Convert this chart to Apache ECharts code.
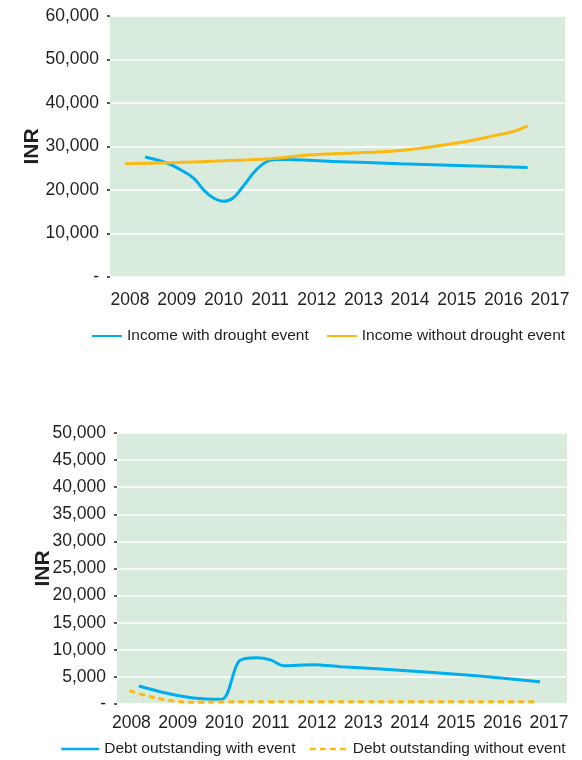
<!DOCTYPE html>
<html>
<head>
<meta charset="utf-8">
<script src="https://cdn.jsdelivr.net/npm/echarts@6/dist/echarts.min.js"></script>
<style>
  html, body { margin: 0; padding: 0; background: #fff; }
  #chart { width: 582px; height: 760px; }
</style>
</head>
<body>
<div id="chart"></div>
<script>
// year labels shown under both plots
var yearLabels = [2008, 2009, 2010, 2011, 2012, 2013, 2014, 2015, 2016, 2017];

// top chart: income (INR)
var incomeWithX = [2008.32, 2008.79, 2009.07, 2009.36, 2009.57, 2009.78, 2010.0, 2010.2, 2010.42, 2010.71, 2011.0, 2011.2, 2012.35, 2013.78, 2015.2, 2016.52];
var incomeWithY = [27600, 26200, 24700, 22750, 20100, 18200, 17400, 18100, 20800, 24700, 26800, 27000, 26560, 26050, 25600, 25200];
var incomeWithoutX = [2007.89, 2009.0, 2010.0, 2011.0, 2011.92, 2013.0, 2013.78, 2014.49, 2015.21, 2015.78, 2016.21, 2016.52];
var incomeWithoutY = [26030, 26300, 26700, 27200, 28100, 28600, 29080, 30000, 31150, 32450, 33440, 34750];

// bottom chart: debt outstanding (INR)
var debtWithX = [2008.16, 2008.77, 2009.34, 2009.95, 2010.33, 2010.71, 2011.0, 2011.28, 2011.93, 2012.5, 2013.37, 2014.5, 2015.5, 2016.81];
var debtWithY = [3320, 1970, 1100, 870, 8000, 8550, 8130, 7080, 7260, 6890, 6460, 5800, 5150, 4120];
var debtWithoutX = [2007.96, 2008.41, 2008.91, 2009.49, 2010.0, 2011.0, 2012.0, 2013.0, 2014.0, 2015.0, 2016.0, 2016.74];
var debtWithoutY = [2460, 1350, 550, 300, 400, 400, 400, 400, 400, 400, 400, 400];

var blue = '#00aeef';
var gold = '#fdb913';
var ink = '#231f20';
var plotBg = '#d9ebdc';

function pairs(xs, ys) {
  return xs.map(function (x, i) { return [x, ys[i]]; });
}

function yLabel(v) {
  return v === 0 ? '-' : v.toLocaleString('en-US');
}

var axisFont = { fontFamily: 'Liberation Sans', fontSize: 17.5, color: ink };

function xAxisFor(idx, min, max, margin) {
  return {
    type: 'value', gridIndex: idx, min: min, max: max,
    axisLine: { show: false },
    axisTick: { show: false },
    splitLine: { show: false },
    axisLabel: Object.assign({ customValues: yearLabels, margin: margin, formatter: function (v) { return String(v); } }, axisFont)
  };
}

function yAxisFor(idx, max, interval, gap) {
  return {
    type: 'value', gridIndex: idx, min: 0, max: max, interval: interval,
    name: 'INR', nameLocation: 'middle', nameGap: gap, nameMoveOverlap: false,
    nameTextStyle: { fontFamily: 'Liberation Sans', fontWeight: 'bold', fontSize: 21, color: ink },
    axisLine: { show: false },
    axisTick: { show: true, length: 3, lineStyle: { color: ink, width: 1.5 } },
    splitLine: { show: true, lineStyle: { color: '#ffffff', width: 1.5 } },
    axisLabel: Object.assign({ margin: 11, formatter: yLabel }, axisFont)
  };
}

var legendText = { fontFamily: 'Liberation Sans', fontSize: 15.5, color: ink };

var chart = echarts.init(document.getElementById('chart'));
var option = {
  backgroundColor: '#ffffff',
  animation: false,
  grid: [
    { left: 110, top: 16, right: 17, height: 261, show: true, backgroundColor: plotBg, borderWidth: 0 },
    { left: 117, top: 433, right: 15, height: 271, show: true, backgroundColor: plotBg, borderWidth: 0 }
  ],
  xAxis: [
    xAxisFor(0, 2007.57, 2017.32, 14),
    xAxisFor(1, 2007.69, 2017.39, 10)
  ],
  yAxis: [
    yAxisFor(0, 60000, 10000, 67),
    yAxisFor(1, 50000, 5000, 63)
  ],
  legend: [
    {
      data: ['Income with drought event', 'Income without drought event'],
      left: 86, top: 323, width: 496, itemWidth: 30, itemHeight: 14, itemGap: 17,
      textStyle: legendText, lineStyle: { width: 2 }, itemStyle: { opacity: 0 }
    },
    {
      data: ['Debt outstanding with event', 'Debt outstanding without event'],
      left: 55, top: 736, width: 527, itemWidth: 38, itemHeight: 14, itemGap: 13,
      textStyle: legendText, lineStyle: { width: 2.5 }, itemStyle: { opacity: 0 }
    }
  ],
  series: [
    {
      name: 'Income with drought event', type: 'line', xAxisIndex: 0, yAxisIndex: 0,
      data: pairs(incomeWithX, incomeWithY), smooth: 0.4,
      symbol: 'none', lineStyle: { color: blue, width: 3 }, itemStyle: { color: blue }
    },
    {
      name: 'Income without drought event', type: 'line', xAxisIndex: 0, yAxisIndex: 0,
      data: pairs(incomeWithoutX, incomeWithoutY), smooth: 0.4,
      symbol: 'none', lineStyle: { color: gold, width: 3 }, itemStyle: { color: gold }
    },
    {
      name: 'Debt outstanding with event', type: 'line', xAxisIndex: 1, yAxisIndex: 1,
      data: pairs(debtWithX, debtWithY), smooth: 0.3,
      symbol: 'none', lineStyle: { color: blue, width: 3 }, itemStyle: { color: blue }
    },
    {
      name: 'Debt outstanding without event', type: 'line', xAxisIndex: 1, yAxisIndex: 1,
      data: pairs(debtWithoutX, debtWithoutY), smooth: 0.4,
      symbol: 'none', lineStyle: { color: gold, width: 3, type: [6, 4] }, itemStyle: { color: gold }
    }
  ]
};
chart.setOption(option);
</script>
</body>
</html>
